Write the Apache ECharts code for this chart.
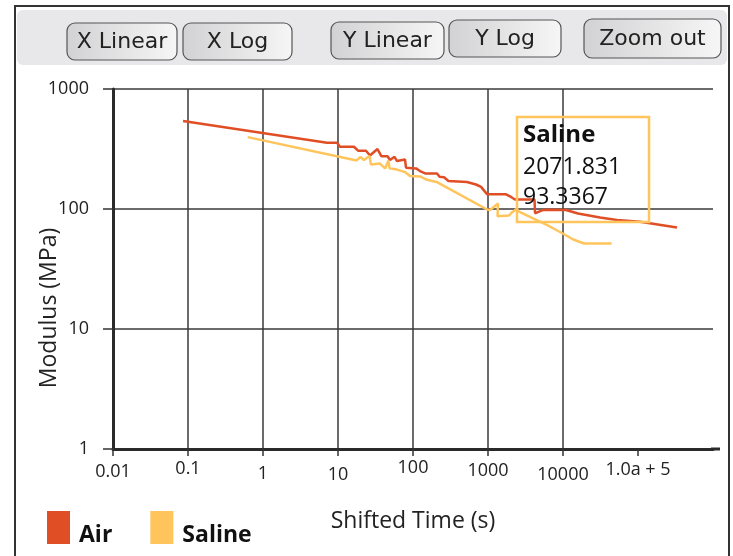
<!DOCTYPE html>
<html>
<head>
<meta charset="utf-8">
<script src="https://cdn.jsdelivr.net/npm/echarts@6/dist/echarts.min.js"></script>
<style>
html,body{margin:0;padding:0;background:#fff;}
#chart{width:733px;height:556px;}
</style>
</head>
<body>
<div id="chart"></div>
<script>
// ---- data ----
var seriesNames = ['Air', 'Saline'];
var airX = [0.0858, 7.13, 9.70, 10.6, 16.3, 18.5, 23.6, 26.7, 33.6, 38.0, 45.7, 49.4, 56.7, 61.2, 64.1, 78.2, 80.7, 110, 124, 145, 209, 226, 259, 297, 525, 692, 807, 970, 1738, 2026, 2291, 4169, 4236, 5248, 6310, 10965, 15849, 31120, 52481, 106400, 331131];
var airY = [541, 357, 357, 330, 330, 306, 306, 279, 316, 275, 275, 256, 272, 251, 259, 259, 221, 218, 207, 198, 198, 186, 184, 171, 168, 160, 153, 133, 132.6, 126, 120, 120, 92.1, 97.5, 98.5, 98.1, 91.7, 85.0, 81.0, 78.4, 70.1];
var salineX = [0.625, 17.7, 19.95, 22.2, 26.3, 27.5, 36.3, 42.4, 47.1, 48.6, 61.2, 78.2, 91.2, 124, 154, 206, 970, 1064, 1360, 1340, 1905, 2071.831, 2415, 2589, 6067, 9120, 13710, 19055, 44570];
var salineY = [397, 254, 271, 256, 277, 235, 239, 218, 254, 218, 213, 203, 188, 187, 175, 168, 99.0, 98.1, 111, 87.1, 88.3, 93.3367, 100, 95.3, 73.6, 64.3, 55.7, 51.6, 51.6];
var xTickValues = [0.01, 0.1, 1, 10, 100, 1000, 10000, 100000];
var xTickLabels = ['0.01', '0.1', '1', '10', '100', '1000', '10000', '1.0a + 5'];
var yTickLabels = ['1', '10', '100', '1000'];
var buttonLabels = ['X Linear', 'X Log', 'Y Linear', 'Y Log', 'Zoom out'];
var tooltipTitle = 'Saline';
var tooltipX = '2071.831';
var tooltipY = '93.3367';

var RED = '#E04E26';
var YELLOW = '#FFC55C';
var FONT = 'Open Sans';
var BFONT = 'DejaVu Sans';

function pairs(xs, ys) {
  var out = [];
  for (var i = 0; i < xs.length; i++) out.push([xs[i], ys[i]]);
  return out;
}

// slight vertical offsets of the x tick labels, as in the picture
var xLabelShift = [4, 1, 6, 7, 0, 3, 7, 2];
var xRich = {};
xLabelShift.forEach(function (s, i) {
  xRich['l' + i] = { fontFamily: FONT, fontSize: 18, color: '#222', padding: [s, 0, 0, 0] };
});

// toolbar buttons (x, y, w, h)
var btnBoxes = [[67, 23, 110, 37], [183, 23, 109, 37], [331, 22, 113, 37], [449, 20, 112, 37], [584, 19, 137, 39]];
var graphics = [
  { type: 'rect', shape: { x: 15, y: 6, width: 714, height: 560 }, style: { fill: 'none', stroke: '#333', lineWidth: 2 }, z: 1 },
  { type: 'rect', shape: { x: 17, y: 10, width: 710, height: 55, r: 6 }, style: { fill: '#E8E8EA' }, z: 1 }
];
btnBoxes.forEach(function (b, i) {
  graphics.push({
    type: 'rect',
    shape: { x: b[0], y: b[1], width: b[2], height: b[3], r: 8 },
    style: {
      fill: new echarts.graphic.LinearGradient(0, 0, 1, 0, [
        { offset: 0, color: '#D2D2D4' }, { offset: 1, color: '#F6F6F6' }
      ]),
      stroke: '#555', lineWidth: 1.2
    },
    z: 2
  });
  graphics.push({
    type: 'text',
    x: b[0] + b[2] / 2, y: b[1] + b[3] / 2 + 1,
    style: { text: buttonLabels[i], font: '22px "' + BFONT + '"', fill: '#222', align: 'center', verticalAlign: 'middle' },
    z: 3
  });
});
// x-axis line extension beyond the plot
graphics.push({ type: 'line', shape: { x1: 711, y1: 449, x2: 720, y2: 449 }, style: { stroke: '#2a2a2a', lineWidth: 3 }, z: 5 });
// tooltip-like annotation
graphics.push({ type: 'rect', shape: { x: 517, y: 117, width: 132, height: 105 }, style: { fill: 'none', stroke: YELLOW, lineWidth: 2.5 }, z: 10 });
graphics.push({ type: 'text', x: 523, y: 135, style: { text: tooltipTitle, font: 'bold 24px "' + FONT + '"', fill: '#111', verticalAlign: 'middle' }, z: 11 });
graphics.push({ type: 'text', x: 523, y: 167, style: { text: tooltipX, font: '23px "' + FONT + '"', fill: '#111', verticalAlign: 'middle' }, z: 11 });
graphics.push({ type: 'text', x: 523, y: 197, style: { text: tooltipY, font: '23px "' + FONT + '"', fill: '#111', verticalAlign: 'middle' }, z: 11 });

var chart = echarts.init(document.getElementById('chart'), null, { renderer: 'canvas' });
chart.setOption({
  animation: false,
  backgroundColor: '#fff',
  textStyle: { fontFamily: FONT },
  grid: { left: 113, right: 20, top: 89, bottom: 107, containLabel: false },
  legend: {
    left: 47, top: 511, padding: 0,
    itemWidth: 23, itemHeight: 33, itemGap: 38,
    icon: 'rect',
    data: seriesNames,
    formatter: '{t|{name}}',
    textStyle: {
      fontFamily: FONT, fontSize: 23, fontWeight: 'bold', color: '#111',
      rich: { t: { fontFamily: FONT, fontSize: 23, fontWeight: 'bold', color: '#111', padding: [16, 0, 0, 4] } }
    }
  },
  xAxis: {
    type: 'log', logBase: 10, min: 0.01, max: 1e6, splitNumber: 8,
    name: 'Shifted Time (s)', nameLocation: 'middle', nameGap: 61, nameMoveOverlap: false,
    nameTextStyle: { fontFamily: FONT, fontSize: 23, color: '#222' },
    axisLine: { show: true, onZero: false, lineStyle: { color: '#2a2a2a', width: 3 } },
    axisTick: { show: true, length: 7, customValues: xTickValues, lineStyle: { color: '#333', width: 1.5 } },
    axisLabel: {
      margin: 10,
      rich: xRich,
      formatter: function (v) { var i = Math.round(Math.log10(v)) + 2; return xTickLabels[i] != null ? '{l' + i + '|' + xTickLabels[i] + '}' : ''; }
    },
    splitLine: { show: true, showMaxLine: false, lineStyle: { color: '#3a3a3a', width: 1.5 } }
  },
  yAxis: {
    type: 'log', logBase: 10, min: 1, max: 1000, splitNumber: 3,
    name: 'Modulus (MPa)', nameLocation: 'middle', nameGap: 52, nameMoveOverlap: false,
    nameTextStyle: { fontFamily: FONT, fontSize: 23, color: '#222', padding: [0, 78, 0, 0] },
    axisLine: { show: true, onZero: false, lineStyle: { color: '#2a2a2a', width: 3 } },
    axisTick: { show: true, length: 10, lineStyle: { color: '#333', width: 1.5 } },
    axisLabel: {
      fontFamily: FONT, fontSize: 18, color: '#222', margin: 24,
      formatter: function (v) { var i = Math.round(Math.log10(v)); return yTickLabels[i] || ''; }
    },
    splitLine: { show: true, lineStyle: { color: '#3a3a3a', width: 1.5 } }
  },
  series: [
    { name: seriesNames[0], type: 'line', data: pairs(airX, airY), symbol: 'none', lineStyle: { color: RED, width: 2.5 }, itemStyle: { color: RED }, z: 3 },
    { name: seriesNames[1], type: 'line', data: pairs(salineX, salineY), symbol: 'none', lineStyle: { color: YELLOW, width: 2.5 }, itemStyle: { color: YELLOW }, z: 4 }
  ],
  graphic: graphics
});
</script>
</body>
</html>
